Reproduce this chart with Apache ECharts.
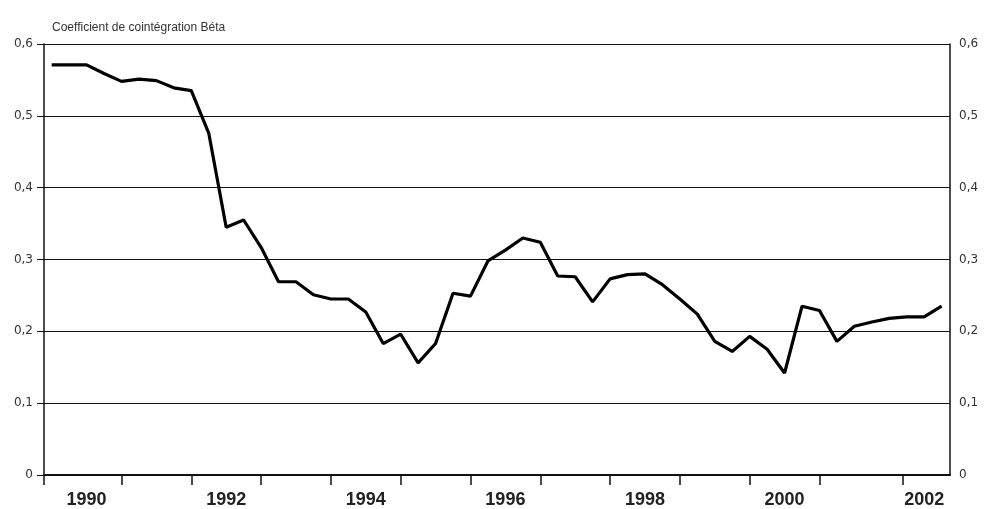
<!DOCTYPE html>
<html>
<head>
<meta charset="utf-8">
<script src="https://cdn.jsdelivr.net/npm/echarts@6/dist/echarts.min.js"></script>
<style>
html,body{margin:0;padding:0;background:#fff;}
#chart{width:985px;height:509px;}
</style>
</head>
<body>
<div id="chart"></div>
<script>
// Quarterly data, 1990 Q1 .. 2002 Q4
var startYear = 1990;
var betaValues = [
  0.571, 0.571, 0.571, 0.559, 0.548, 0.551, 0.549, 0.539, 0.535, 0.476,
  0.345, 0.355, 0.317, 0.269, 0.269, 0.251, 0.245, 0.245, 0.227, 0.183,
  0.196, 0.156, 0.183, 0.253, 0.249, 0.298, 0.313, 0.330, 0.324, 0.277,
  0.276, 0.241, 0.273, 0.279, 0.280, 0.265, 0.245, 0.224, 0.186, 0.172,
  0.193, 0.175, 0.142, 0.235, 0.229, 0.186, 0.207, 0.213, 0.218, 0.220,
  0.220, 0.235
];
var yearLabels = [1990, 1992, 1994, 1996, 1998, 2000, 2002];
var yearTicks = [1991, 1992, 1993, 1994, 1995, 1996, 1997, 1998, 1999, 2000, 2001, 2002.2];
var yTicks = [0, 0.1, 0.2, 0.3, 0.4, 0.5, 0.6];
var axisTitle = 'Coefficient de cointégration Béta';

var xMin = 1989.89, xMax = 2002.87;
var seriesData = betaValues.map(function (v, i) { return [startYear + i / 4, v]; });

function fmtY(v) {
  if (v === 0) return '0';
  return v.toFixed(1).replace('.', ',');
}

var chart = echarts.init(document.getElementById('chart'), null, {renderer: 'canvas'});
chart.setOption({
  animation: false,
  backgroundColor: '#ffffff',
  title: {
    text: axisTitle,
    left: 47, top: 17,
    textStyle: {fontFamily: 'Liberation Sans, Arial, sans-serif', fontSize: 12, fontWeight: 'normal', color: '#333'}
  },
  grid: {left: 44, right: 35, top: 44, bottom: 34, containLabel: false, outerBoundsMode: 'none'},
  xAxis: {
    type: 'value', min: xMin, max: xMax,
    axisLine: {show: true, onZero: false, lineStyle: {color: '#111', width: 2}},
    axisTick: {show: true, length: 10, customValues: [xMin].concat(yearTicks), lineStyle: {color: '#111', width: 1.5}},
    axisLabel: {
      show: true, margin: 16,
      customValues: yearLabels.map(function (y) { return y + 0.5; }),
      formatter: function (v) { return String(Math.floor(v)); },
      fontFamily: 'Liberation Sans, Arial, sans-serif', fontSize: 18, fontWeight: 'bold', color: '#222'
    },
    splitLine: {show: false}
  },
  yAxis: [{
    type: 'value', position: 'left', min: 0, max: 0.6, interval: 0.1,
    axisLine: {show: true, lineStyle: {color: '#111', width: 1.5}},
    axisTick: {show: true, length: 7, lineStyle: {color: '#111', width: 1}},
    axisLabel: {margin: 11, formatter: fmtY, fontFamily: 'DejaVu Sans, sans-serif', fontSize: 12, color: '#333'},
    splitLine: {show: true, lineStyle: {color: '#111', width: 1.2}}
  }, {
    type: 'value', position: 'right', min: 0, max: 0.6, interval: 0.1,
    axisLine: {show: true, lineStyle: {color: '#111', width: 1.5}},
    axisTick: {show: false},
    axisLabel: {margin: 9, formatter: fmtY, fontFamily: 'DejaVu Sans, sans-serif', fontSize: 12, color: '#333'},
    splitLine: {show: false}
  }],
  series: [{
    type: 'line',
    data: seriesData,
    showSymbol: false,
    lineStyle: {color: '#000', width: 3.2},
    itemStyle: {color: '#000'}
  }]
});
</script>
</body>
</html>
